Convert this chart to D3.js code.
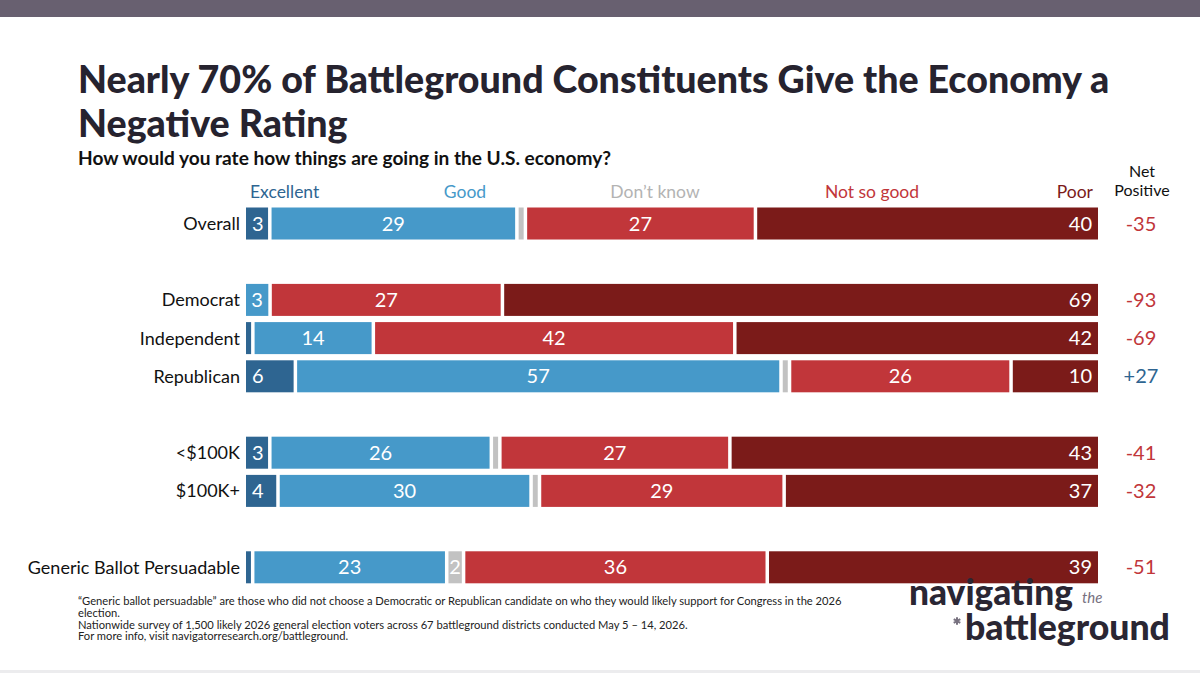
<!DOCTYPE html>
<html>
<head>
<meta charset="utf-8">
<script src="https://cdn.jsdelivr.net/npm/d3@7"></script>
<style>
  html, body { margin: 0; padding: 0; background: #fff; }
  svg { display: block; font-family: Lato, "Open Sans", sans-serif; }
</style>
</head>
<body>
<div id="chart"></div>
<script>
// answer options, left to right
const responses = ["Excellent", "Good", "Don\u2019t know", "Not so good", "Poor"];
const responseColors = ["#2e6591", "#4699c9", "#c2c2c2", "#c1363a", "#7b1b19"];
const legendColors = ["#2e6591", "#4699c9", "#b3b3b3", "#c1363a", "#7b1b19"];

// rows (blank keys make the gaps between groups)
const rowOrder = ["Overall", "_g1", "Democrat", "Independent", "Republican", "_g2", "<$100K", "$100K+", "_g3", "Generic Ballot Persuadable"];
const categories = ["Overall", "Democrat", "Independent", "Republican", "<$100K", "$100K+", "Generic Ballot Persuadable"];

// shares per row, in response order
const excellent = [3, 0, 1, 6, 3, 4, 1];
const good      = [29, 3, 14, 57, 26, 30, 23];
const dontKnow  = [1, 0, 0, 1, 1, 1, 2];
const notSoGood = [27, 27, 42, 26, 27, 29, 36];
const poor      = [40, 69, 42, 10, 43, 37, 39];
const netPositive = ["-35", "-93", "-69", "+27", "-41", "-32", "-51"];

const footnotes = [
  "\u201cGeneric ballot persuadable\u201d are those who did not choose a Democratic or Republican candidate on who they would likely support for Congress in the 2026",
  "election.",
  "Nationwide survey of 1,500 likely 2026 general election voters across 67 battleground districts conducted May 5 \u2013 14, 2026.",
  "For more info, visit navigatorresearch.org/battleground."
];

const W = 1200, H = 673;
const svg = d3.select("#chart").append("svg").attr("width", W).attr("height", H);

// shrink/grow a text node so it spans a given width
function fitWidth(sel, target) {
  const node = sel.node();
  const fs = parseFloat(sel.attr("font-size"));
  const w = node.getComputedTextLength();
  if (w > 0) sel.attr("font-size", (fs * target / w).toFixed(2));
  return sel;
}

// frame
svg.append("rect").attr("width", W).attr("height", 17).attr("fill", "#686070");
svg.append("rect").attr("y", 670).attr("width", W).attr("height", 3).attr("fill", "#ececee");

// title
const title = svg.append("text").attr("x", 78).attr("fill", "#26232f").attr("font-weight", 900);
const t1 = title.append("tspan").attr("x", 78).attr("y", 93).attr("font-size", 33)
  .text("Nearly 70% of Battleground Constituents Give the Economy a");
fitWidth(t1, 1032);
title.append("tspan").attr("x", 78).attr("y", 137).attr("font-size", t1.attr("font-size"))
  .text("Negative Rating");

fitWidth(svg.append("text").attr("x", 78).attr("y", 165).attr("font-size", 17)
  .attr("font-weight", 700).attr("fill", "#111")
  .text("How would you rate how things are going in the U.S. economy?"), 533);

// scales
const x = d3.scaleLinear().domain([0, 100]).range([246, 1098]);
const y = d3.scaleBand().domain(rowOrder).range([207.5, 583.3]).paddingInner(0.162).paddingOuter(0);
const color = d3.scaleOrdinal().domain(responses).range(responseColors);

const rows = categories.map((c, i) => {
  const vals = [excellent[i], good[i], dontKnow[i], notSoGood[i], poor[i]];
  const total = d3.sum(vals);
  let acc = 0;
  const segs = vals.map((v, k) => {
    const s = { key: responses[k], k, value: v, x0: acc / total * 100, x1: (acc + v) / total * 100 };
    acc += v;
    return s;
  }).filter(s => s.value > 0);
  return { cat: c, net: netPositive[i], segs };
});

const gap = 3.5;
const g = svg.append("g");
const row = g.selectAll("g.row").data(rows).join("g").attr("class", "row")
  .attr("transform", d => `translate(0,${y(d.cat)})`);

row.append("text")
  .attr("x", 240).attr("y", y.bandwidth() / 2).attr("dy", "0.36em")
  .attr("text-anchor", "end").attr("font-size", 18).attr("fill", "#111")
  .text(d => d.cat);

row.selectAll("rect").data(d => d.segs).join("rect")
  .attr("x", s => x(s.x0))
  .attr("width", s => Math.max(1, x(s.x1) - x(s.x0) - (s.x1 >= 99.999 ? 0 : gap)))
  .attr("height", y.bandwidth())
  .attr("fill", s => color(s.key));

row.selectAll("text.val").data(d => d.segs.filter(s => s.value >= 2)).join("text")
  .attr("class", "val")
  .attr("x", s => s.k === 0 ? x(s.x0) + 6 : s.k === 4 ? x(s.x1) - 6 : (x(s.x0) + x(s.x1) - gap) / 2)
  .attr("y", y.bandwidth() / 2).attr("dy", "0.36em")
  .attr("text-anchor", s => s.k === 0 ? "start" : s.k === 4 ? "end" : "middle")
  .attr("font-size", 20).attr("fill", "#fff")
  .text(s => s.value);

row.append("text")
  .attr("x", 1141).attr("y", y.bandwidth() / 2).attr("dy", "0.36em")
  .attr("text-anchor", "middle").attr("font-size", 20)
  .attr("fill", d => d.net.startsWith("+") ? "#2e6591" : "#c1363a")
  .text(d => d.net);

// legend across the top of the bars
const legendX = [250, 465, 655, 872, 1093];
const legendAnchor = ["start", "middle", "middle", "middle", "end"];
svg.selectAll("text.legend").data(responses).join("text").attr("class", "legend")
  .attr("x", (d, i) => legendX[i]).attr("y", 198)
  .attr("text-anchor", (d, i) => legendAnchor[i])
  .attr("font-size", 17.5).attr("fill", (d, i) => legendColors[i])
  .text(d => d);

svg.append("text").attr("x", 1142).attr("y", 177).attr("text-anchor", "middle")
  .attr("font-size", 16).attr("fill", "#111").text("Net");
svg.append("text").attr("x", 1142).attr("y", 196).attr("text-anchor", "middle")
  .attr("font-size", 16).attr("fill", "#111").text("Positive");

// footnotes
const footY = [605, 617, 629, 640];
svg.selectAll("text.foot").data(footnotes).join("text").attr("class", "foot")
  .attr("x", 78).attr("y", (d, i) => footY[i])
  .attr("font-size", 12).attr("fill", "#222")
  .text(d => d);
fitWidth(svg.select("text.foot"), 764);
svg.selectAll("text.foot").attr("font-size", svg.select("text.foot").attr("font-size"));

// logo
const logo = svg.append("g").attr("fill", "#2a2633").attr("font-weight", 900);
fitWidth(logo.append("text").attr("x", 909).attr("y", 605).attr("font-size", 32).text("navigating"), 164);
logo.append("text").attr("x", 1082).attr("y", 603).attr("font-size", 15).attr("font-style", "italic")
  .attr("font-weight", 400).attr("fill", "#77717f").text("the");
logo.append("path").attr("d", d3.symbol(d3.symbolAsterisk, 40)())
  .attr("transform", "translate(957,621)")
  .attr("fill", "none").attr("stroke", "#77717f").attr("stroke-width", 2);
fitWidth(logo.append("text").attr("x", 965).attr("y", 640).attr("font-size", 32).text("battleground"), 205);
</script>
</body>
</html>
